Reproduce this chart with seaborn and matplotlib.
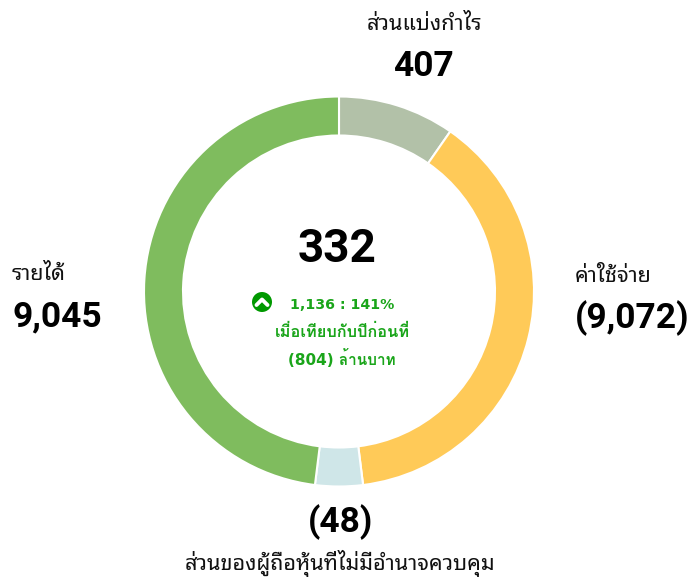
import matplotlib
matplotlib.use("Agg")
import matplotlib.pyplot as plt
import seaborn as sns

# Slice shares (percent of ring) and printed labels
names = ["ส่วนแบ่งกำไร", "ค่าใช้จ่าย", "ส่วนของผู้ถือหุ้นที่ไม่มีอำนาจควบคุม", "รายได้"]
shares = [9.67, 38.36, 3.94, 48.03]
amounts = ["407", "(9,072)", "(48)", "9,045"]
colors = ["#B2C1A8", "#FFCA58", "#CFE6E8", "#7FBC5E"]
total = "332"
change_lines = ["1,136 : 141%", "เมื่อเทียบกับปีก่อนที่", "(804) ล้านบาท"]

sns.set_theme(style="white")
W, H = 692, 579


def py(y):
    # pixel row of the reference -> data y
    return H - y


fig = plt.figure(figsize=(W / 100, H / 100), dpi=100)
ax = fig.add_axes([0, 0, 1, 1])

# Donut
ax.pie(shares, colors=sns.color_palette(colors), startangle=90, counterclock=False,
       center=(339, py(291.5)), radius=195,
       wedgeprops={"width": 39, "edgecolor": "white", "linewidth": 1.5})
ax.set_xlim(0, W)
ax.set_ylim(0, H)
ax.set_aspect("equal")
ax.axis("off")

thai = ["Noto Sans Thai Looped"]
big = ["Roboto"]
label_size = 15.6
big_size = 25.5

# Labels round the ring
ax.text(424, py(30), names[0], family=thai, fontsize=label_size, ha="center", color="#111111")
ax.text(423, py(76), amounts[0], family=big, fontsize=big_size, weight="bold", ha="center", color="black")
ax.text(575, py(282), names[1], family=thai, fontsize=label_size, ha="left", color="#111111")
ax.text(575, py(328), amounts[1], family=big, fontsize=big_size, weight="bold", ha="left", color="black")
ax.text(340, py(532), amounts[2], family=big, fontsize=big_size, weight="bold", ha="center", color="black")
ax.text(340, py(570), names[2], family=thai, fontsize=label_size, ha="center", color="#111111")
ax.text(12, py(280), names[3], family=thai, fontsize=label_size, ha="left", color="#111111")
ax.text(13, py(326), amounts[3], family=big, fontsize=big_size, weight="bold", ha="left", color="black")

# Centre
ax.text(337, py(262), total, family=["Roboto"], fontsize=33, weight="bold", ha="center", color="black")

green = "#1AA51A"
small = ["DejaVu Sans", "Loma"]
for line, base, size in zip(change_lines, [309, 337, 365], [10.2, 11.8, 11]):
    ax.text(342, py(base), line, family=small, fontsize=size, weight="bold", ha="center", color=green)

# Up arrow badge
ax.add_patch(plt.Circle((262, py(302)), 10, color="#009900", lw=0))
ax.plot([256.5, 262, 267.5], [py(305), py(299.5), py(305)], color="white", lw=2.8,
        solid_capstyle="round", solid_joinstyle="round")

fig.savefig("out.png", dpi=100)
